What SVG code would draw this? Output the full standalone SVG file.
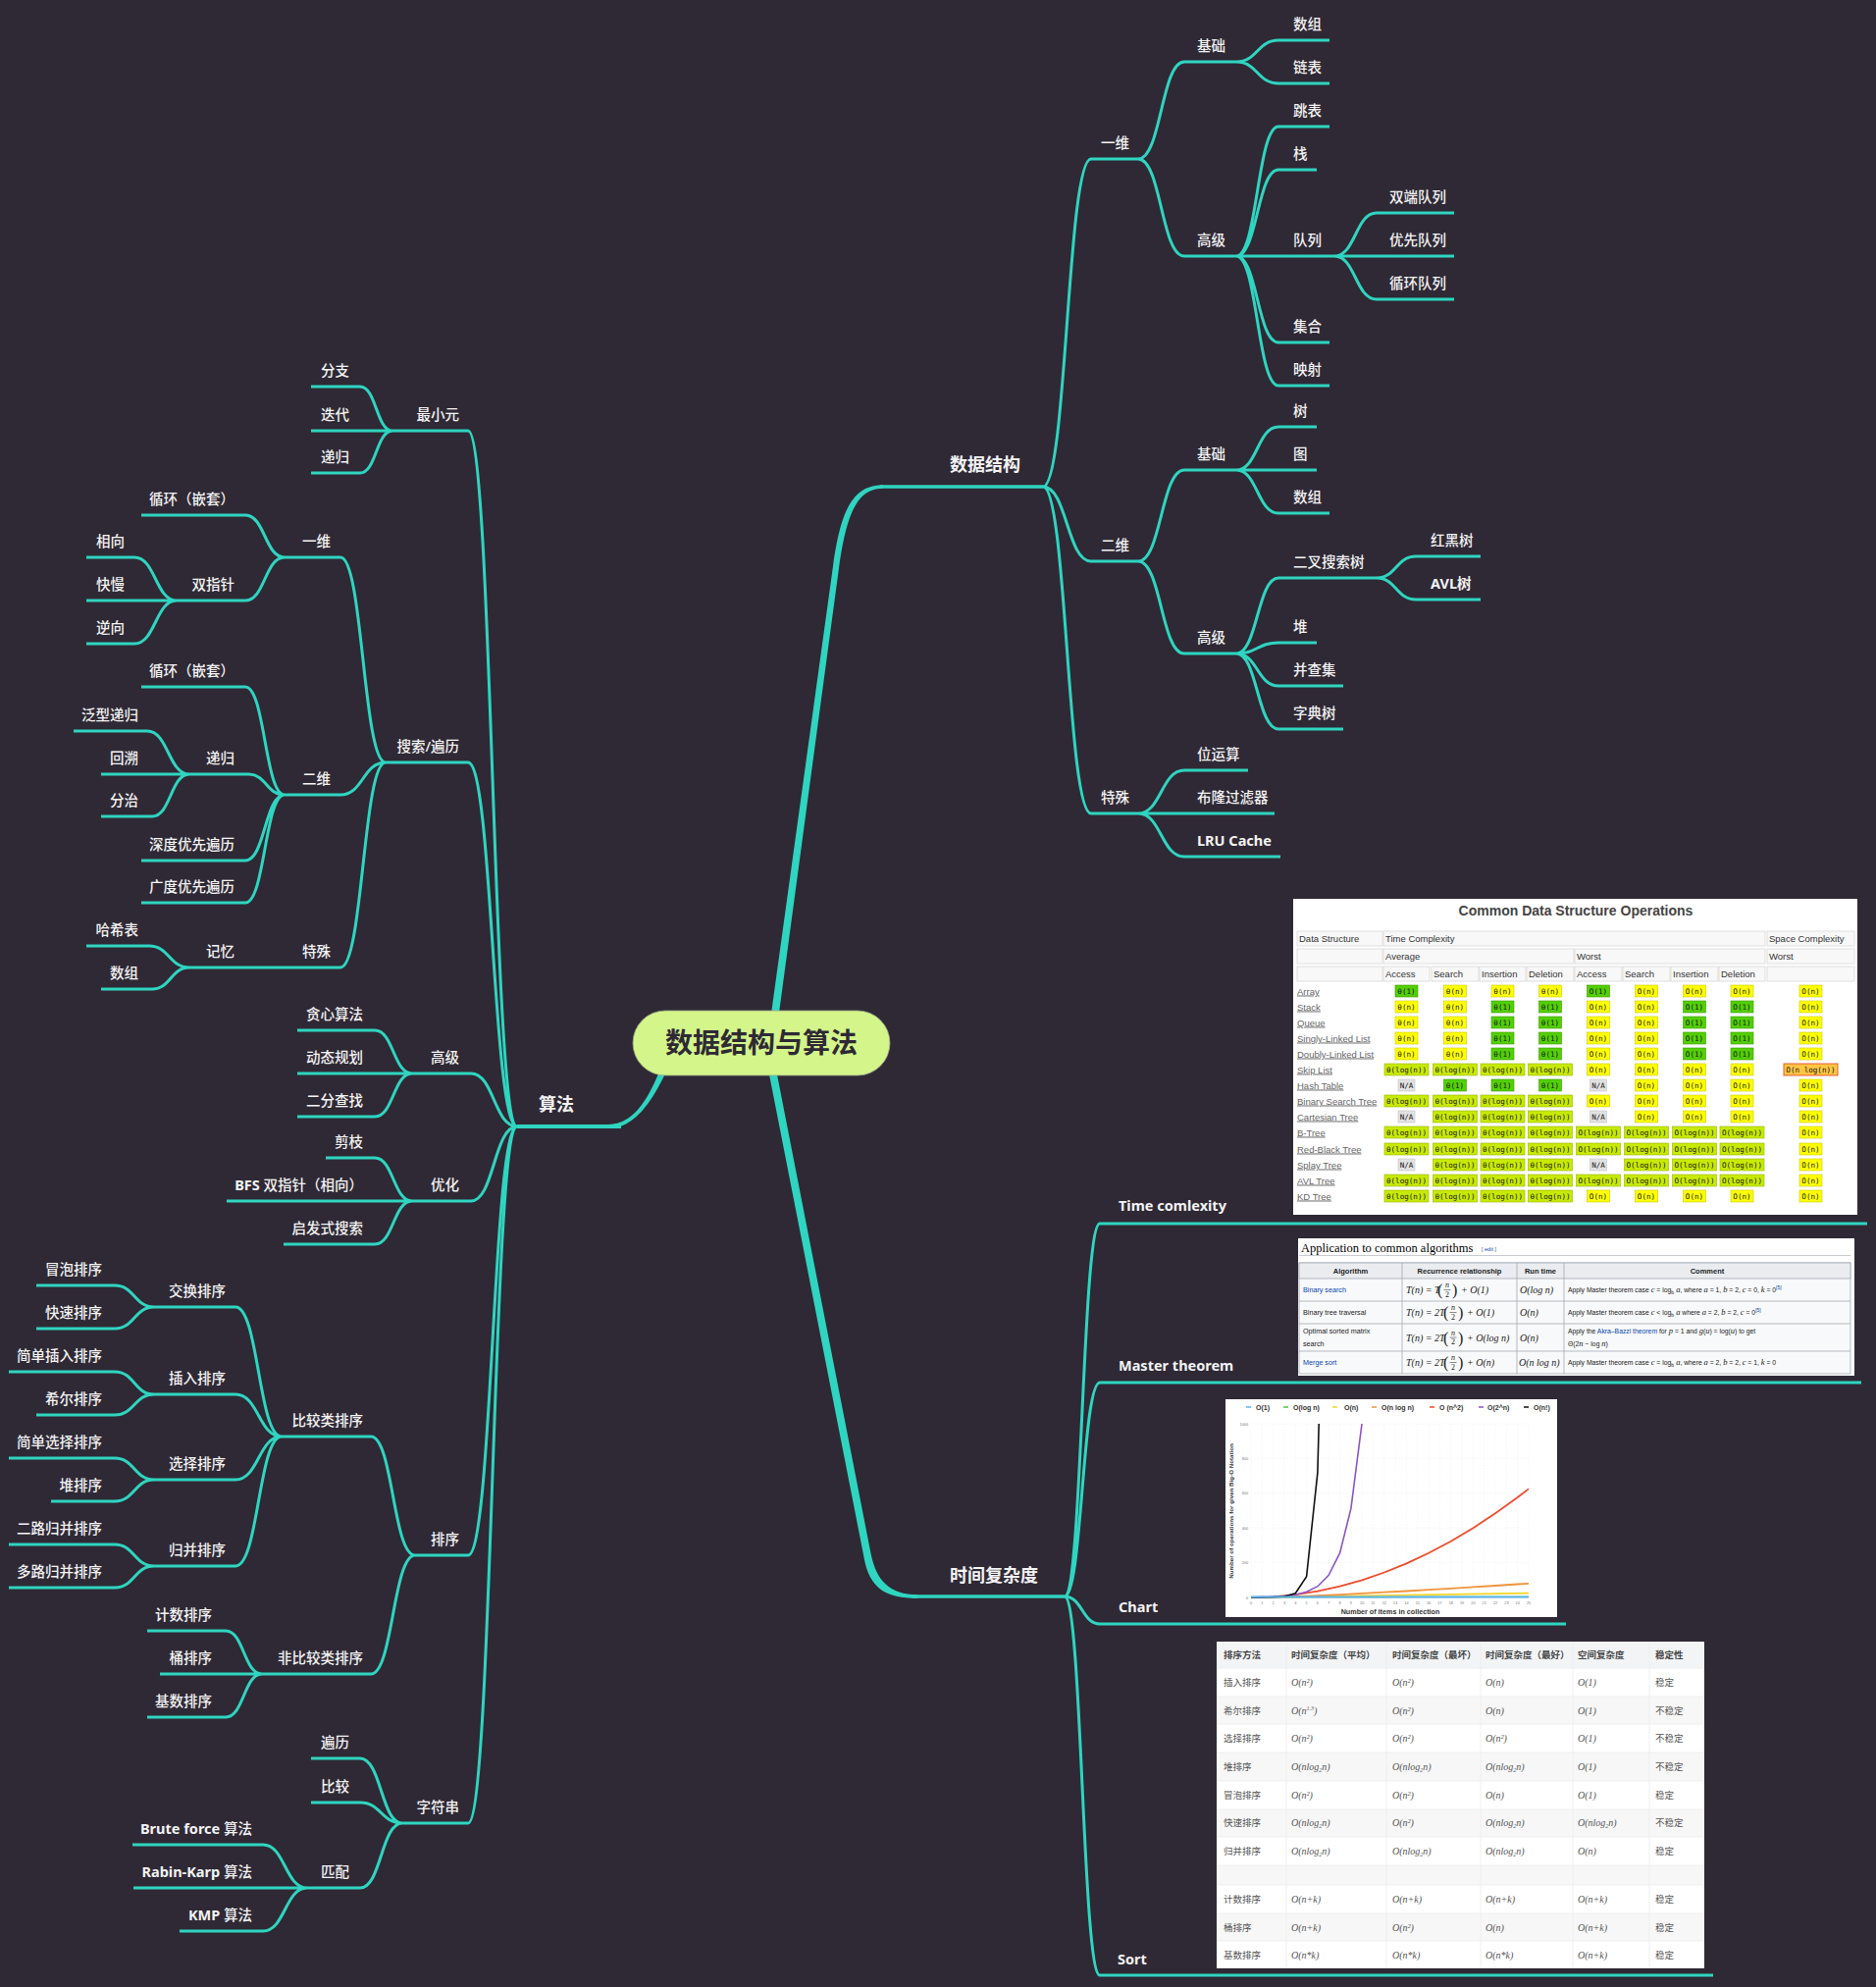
<svg xmlns="http://www.w3.org/2000/svg" width="1912" height="2025" viewBox="0 0 1912 2025">
<style>
.t{font-family:"Noto Sans","Noto Sans CJK SC",sans-serif;font-size:14.5px;font-weight:500;fill:#f3f3f3}
.e{text-anchor:end}
.b{font-weight:700}
.h{font-size:18px;font-weight:700}
.c{fill:none;stroke:#2fd5c0;stroke-width:3}
.br{fill:#2fd5c0}
.bx{font-family:"DejaVu Sans Mono",monospace;font-size:7.6px;text-anchor:middle;fill:#111}
.th{font-family:"Liberation Sans",sans-serif;font-size:9.5px;fill:#333}
.rl{font-family:"Liberation Sans",sans-serif;font-size:9.5px;fill:#666;text-decoration:underline}
.hc{fill:#f8f8f8;stroke:#d8d8d8;stroke-width:.8}
.mh{font-family:"Liberation Sans",sans-serif;font-size:7.5px;font-weight:700;fill:#202122;text-anchor:middle}
.ma{font-family:"Liberation Sans",sans-serif;font-size:7.2px;fill:#202122}
.lk{fill:#0645ad}
.mi{font-family:"Liberation Serif",serif;font-style:italic;font-size:10px;fill:#202122}
.mc{font-family:"Liberation Sans",sans-serif;font-size:6.8px;fill:#202122}
.ms{font-family:"Liberation Serif",serif;font-style:italic;font-size:8.5px}
.lg{font-family:"Liberation Sans",sans-serif;font-size:7px;font-weight:700;fill:#333}
.tk{font-family:"Liberation Sans",sans-serif;font-size:3.8px;fill:#777;text-anchor:middle}
.st{font-family:"Noto Sans CJK SC",sans-serif;font-size:9.5px;fill:#555}
.sh{font-weight:700;fill:#444}
.sm{font-family:"Liberation Serif",serif;font-style:italic;font-size:10px;fill:#555}
.gl{fill:none;stroke:#ebebeb;stroke-width:.4;stroke-dasharray:1.5 1.5}
.sl{stroke:#ececec;stroke-width:.8;fill:none}
</style>
<defs>
<g id="g1"><rect x="-11.5" y="-6" width="23" height="12" fill="#53d000" stroke="#3c9800" stroke-width=".6"/><text class="bx" y="2.7">θ(1)</text></g>
<g id="gn"><rect x="-11.5" y="-6" width="23" height="12" fill="#ffff00" stroke="#c9c900" stroke-width=".6"/><text class="bx" y="2.7">θ(n)</text></g>
<g id="o1"><rect x="-11.5" y="-6" width="23" height="12" fill="#53d000" stroke="#3c9800" stroke-width=".6"/><text class="bx" y="2.7">O(1)</text></g>
<g id="on"><rect x="-11.5" y="-6" width="23" height="12" fill="#ffff00" stroke="#c9c900" stroke-width=".6"/><text class="bx" y="2.7">O(n)</text></g>
<g id="gl"><rect x="-22.5" y="-6" width="45" height="12" fill="#c8ea00" stroke="#98b400" stroke-width=".6"/><text class="bx" y="2.7">θ(log(n))</text></g>
<g id="ol"><rect x="-22.5" y="-6" width="45" height="12" fill="#c8ea00" stroke="#98b400" stroke-width=".6"/><text class="bx" y="2.7">O(log(n))</text></g>
<g id="na"><rect x="-8.5" y="-6" width="17" height="12" fill="#e2e2e2" stroke="#c4c4c4" stroke-width=".6"/><text class="bx" y="2.7">N/A</text></g>
<g id="onl"><rect x="-27.5" y="-6" width="55" height="12" fill="#ffc543" stroke="#e03a1e" stroke-width=".8"/><text class="bx" y="2.7">O(n log(n))</text></g>
</defs>
<rect width="1912" height="2025" fill="#2f2935"/>

<g id="connectors">
<path class="br" d="M782 1062L849 577C857 518 870 494.2 900 494.2L900 497.8C874 497.8 863 522 855 579L790 1062Z"/>
<path class="br" d="M681.8 1068.6C668.8 1098.6 655 1146 620 1146L620 1150C655 1150 675.2 1101.4 688.2 1071.4Z"/>
<path class="br" d="M791 1090L887.5 1583C893 1611 907 1625.2 935 1625.2L935 1628.8C903 1628.8 886 1619 880.5 1587L783 1090Z"/>
<path class="c" d="M1063 496C1087.5 496 1087.5 162 1112 162M1063 496C1087.5 496 1087.5 572 1112 572M1063 496C1087.5 496 1087.5 829 1112 829"/>
<path class="c" d="M1160 162C1183.5 162 1183.5 63 1207 63M1160 162C1183.5 162 1183.5 261 1207 261"/>
<path class="c" d="M1260 63C1281.5 63 1281.5 41 1303 41M1260 63C1281.5 63 1281.5 85 1303 85"/>
<path class="c" d="M1260 261C1281.5 261 1281.5 129 1303 129M1260 261C1281.5 261 1281.5 173 1303 173M1260 261H1303M1260 261C1281.5 261 1281.5 349 1303 349M1260 261C1281.5 261 1281.5 393 1303 393"/>
<path class="c" d="M1360 261C1381.5 261 1381.5 217 1403 217M1360 261H1403M1360 261C1381.5 261 1381.5 305 1403 305"/>
<path class="c" d="M1160 572C1183.5 572 1183.5 479 1207 479M1160 572C1183.5 572 1183.5 666 1207 666"/>
<path class="c" d="M1260 479C1281.5 479 1281.5 435 1303 435M1260 479H1303M1260 479C1281.5 479 1281.5 523 1303 523"/>
<path class="c" d="M1260 666C1281.5 666 1281.5 589 1303 589M1260 666C1281.5 666 1281.5 655 1303 655M1260 666C1281.5 666 1281.5 699 1303 699M1260 666C1281.5 666 1281.5 743 1303 743"/>
<path class="c" d="M1403 589C1423 589 1423 567 1443 567M1403 589C1423 589 1423 611 1443 611"/>
<path class="c" d="M1160 829C1183.5 829 1183.5 785 1207 785M1160 829H1207M1160 829C1183.5 829 1183.5 873 1207 873"/>
<path class="c" d="M1085 1627C1103 1627 1103 1247 1121 1247M1085 1627C1103 1627 1103 1409 1121 1409M1085 1627C1103 1627 1103 1655 1121 1655M1085 1627C1103 1627 1103 2013 1121 2013"/>
<path class="c" d="M527 1148C502 1148 502 439 477 439M527 1148C502 1148 502 777 477 777M527 1148C503.5 1148 503.5 1094 480 1094M527 1148C503.5 1148 503.5 1224 480 1224M527 1148C502 1148 502 1585 477 1585M527 1148C502 1148 502 1858 477 1858"/>
<path class="c" d="M400 439C383.5 439 383.5 394 367 394M400 439H367M400 439C383.5 439 383.5 482 367 482"/>
<path class="c" d="M393 777C370 777 370 568 347 568M393 777C370 777 370 810 347 810M393 777C370 777 370 986 347 986"/>
<path class="c" d="M290 568C270 568 270 525 250 525M290 568C270 568 270 612 250 612"/>
<path class="c" d="M180 612C158.5 612 158.5 568 137 568M180 612H137M180 612C158.5 612 158.5 656 137 656"/>
<path class="c" d="M290 810C270 810 270 700 250 700M290 810C271.5 810 271.5 789 253 789M290 810C270 810 270 877 250 877M290 810C270 810 270 920 250 920"/>
<path class="c" d="M193 789C171.5 789 171.5 745 150 745M193 789H155M193 789C174 789 174 832 155 832"/>
<path class="c" d="M290 986H250"/>
<path class="c" d="M193 986C172.5 986 172.5 964 152 964M193 986C174 986 174 1008 155 1008"/>
<path class="c" d="M420 1094C401 1094 401 1050 382 1050M420 1094H382M420 1094C401 1094 401 1138 382 1138"/>
<path class="c" d="M420 1224C401 1224 401 1180 382 1180M420 1224H382M420 1224C401 1224 401 1268 382 1268"/>
<path class="c" d="M423 1585C400.5 1585 400.5 1464 378 1464M423 1585C400.5 1585 400.5 1706 378 1706"/>
<path class="c" d="M287 1464C263.5 1464 263.5 1332 240 1332M287 1464C263.5 1464 263.5 1421 240 1421M287 1464C263.5 1464 263.5 1508 240 1508M287 1464C263.5 1464 263.5 1596 240 1596"/>
<path class="c" d="M157 1332C137 1332 137 1310 117 1310M157 1332C137 1332 137 1354 117 1354"/>
<path class="c" d="M157 1421C137 1421 137 1398 117 1398M157 1421C137 1421 137 1442 117 1442"/>
<path class="c" d="M157 1508C137 1508 137 1486 117 1486M157 1508C137 1508 137 1530 117 1530"/>
<path class="c" d="M157 1596C137 1596 137 1574 117 1574M157 1596C137 1596 137 1618 117 1618"/>
<path class="c" d="M267 1706C248.5 1706 248.5 1662 230 1662M267 1706H230M267 1706C248.5 1706 248.5 1750 230 1750"/>
<path class="c" d="M410 1858C388.5 1858 388.5 1792 367 1792M410 1858C388.5 1858 388.5 1837 367 1837M410 1858C388.5 1858 388.5 1924 367 1924"/>
<path class="c" d="M313 1924C290.5 1924 290.5 1880 268 1880M313 1924H268M313 1924C290.5 1924 290.5 1968 268 1968"/>
</g>

<g id="root">
<rect x="645" y="1030" width="262" height="66" rx="33" fill="#d3f589" stroke="#9aa486" stroke-width=".8"/>
<text class="t" x="776" y="1073" text-anchor="middle" style="font-size:28px;font-weight:700;fill:#2f2935">数据结构与算法</text>
</g>

<g id="n-ds"><path class="c" style="stroke-width:3.6" d="M897 496H1063"/><text class="t h" x="968" y="480">数据结构</text></g>
<g id="n-ds-1d"><path class="c" d="M1112 162H1160"/><text class="t" x="1122" y="151">一维</text></g>
<g id="n-ds-1d-basic"><path class="c" d="M1207 63H1260"/><text class="t" x="1220" y="52">基础</text></g>
<g id="n-ds-1d-array"><path class="c" d="M1303 41H1355"/><text class="t" x="1318" y="30">数组</text></g>
<g id="n-ds-1d-list"><path class="c" d="M1303 85H1355"/><text class="t" x="1318" y="74">链表</text></g>
<g id="n-ds-1d-adv"><path class="c" d="M1207 261H1260"/><text class="t" x="1220" y="250">高级</text></g>
<g id="n-skiplist"><path class="c" d="M1303 129H1355"/><text class="t" x="1318" y="118">跳表</text></g>
<g id="n-stack"><path class="c" d="M1303 173H1342"/><text class="t" x="1318" y="162">栈</text></g>
<g id="n-queue"><path class="c" d="M1303 261H1360"/><text class="t" x="1318" y="250">队列</text></g>
<g id="n-deque"><path class="c" d="M1403 217H1482"/><text class="t" x="1416" y="206">双端队列</text></g>
<g id="n-pq"><path class="c" d="M1403 261H1482"/><text class="t" x="1416" y="250">优先队列</text></g>
<g id="n-cq"><path class="c" d="M1403 305H1482"/><text class="t" x="1416" y="294">循环队列</text></g>
<g id="n-set"><path class="c" d="M1303 349H1355"/><text class="t" x="1318" y="338">集合</text></g>
<g id="n-map"><path class="c" d="M1303 393H1355"/><text class="t" x="1318" y="382">映射</text></g>
<g id="n-ds-2d"><path class="c" d="M1112 572H1160"/><text class="t" x="1122" y="561">二维</text></g>
<g id="n-ds-2d-basic"><path class="c" d="M1207 479H1260"/><text class="t" x="1220" y="468">基础</text></g>
<g id="n-tree"><path class="c" d="M1303 435H1342"/><text class="t" x="1318" y="424">树</text></g>
<g id="n-graph"><path class="c" d="M1303 479H1342"/><text class="t" x="1318" y="468">图</text></g>
<g id="n-ds-2d-array"><path class="c" d="M1303 523H1355"/><text class="t" x="1318" y="512">数组</text></g>
<g id="n-ds-2d-adv"><path class="c" d="M1207 666H1260"/><text class="t" x="1220" y="655">高级</text></g>
<g id="n-bst"><path class="c" d="M1303 589H1403"/><text class="t" x="1318" y="578">二叉搜索树</text></g>
<g id="n-rbt"><path class="c" d="M1443 567H1509"/><text class="t" x="1458" y="556">红黑树</text></g>
<g id="n-avl"><path class="c" d="M1443 611H1509"/><text class="t b" x="1458" y="600">AVL树</text></g>
<g id="n-heap"><path class="c" d="M1303 655H1342"/><text class="t" x="1318" y="644">堆</text></g>
<g id="n-uf"><path class="c" d="M1303 699H1369"/><text class="t" x="1318" y="688">并查集</text></g>
<g id="n-trie"><path class="c" d="M1303 743H1369"/><text class="t" x="1318" y="732">字典树</text></g>
<g id="n-ds-special"><path class="c" d="M1112 829H1160"/><text class="t" x="1122" y="818">特殊</text></g>
<g id="n-bit"><path class="c" d="M1207 785H1272"/><text class="t" x="1220" y="774">位运算</text></g>
<g id="n-bloom"><path class="c" d="M1207 829H1299"/><text class="t" x="1220" y="818">布隆过滤器</text></g>
<g id="n-lru"><path class="c" d="M1207 873H1305"/><text class="t b" x="1220" y="862">LRU Cache</text></g>

<g id="n-algo"><path class="c" style="stroke-width:4" d="M527 1148H633"/><text class="t h" x="549" y="1132">算法</text></g>
<g id="n-min"><path class="c" d="M400 439H477"/><text class="t e" x="468" y="428">最小元</text></g>
<g id="n-branch"><path class="c" d="M317 394H367"/><text class="t e" x="356" y="383">分支</text></g>
<g id="n-iter"><path class="c" d="M317 439H367"/><text class="t e" x="356" y="428">迭代</text></g>
<g id="n-rec"><path class="c" d="M317 482H367"/><text class="t e" x="356" y="471">递归</text></g>
<g id="n-search"><path class="c" d="M393 777H477"/><text class="t e" x="468" y="766">搜索/遍历</text></g>
<g id="n-s-1d"><path class="c" d="M290 568H347"/><text class="t e" x="337" y="557">一维</text></g>
<g id="n-s-1d-loop"><path class="c" d="M144 525H250"/><text class="t e" x="239" y="514">循环（嵌套）</text></g>
<g id="n-twoptr"><path class="c" d="M180 612H250"/><text class="t e" x="239" y="601">双指针</text></g>
<g id="n-toward"><path class="c" d="M88 568H137"/><text class="t e" x="127" y="557">相向</text></g>
<g id="n-fastslow"><path class="c" d="M88 612H137"/><text class="t e" x="127" y="601">快慢</text></g>
<g id="n-reverse"><path class="c" d="M88 656H137"/><text class="t e" x="127" y="645">逆向</text></g>
<g id="n-s-2d"><path class="c" d="M290 810H347"/><text class="t e" x="337" y="799">二维</text></g>
<g id="n-s-2d-loop"><path class="c" d="M144 700H250"/><text class="t e" x="239" y="689">循环（嵌套）</text></g>
<g id="n-s-2d-rec"><path class="c" d="M193 789H253"/><text class="t e" x="239" y="778">递归</text></g>
<g id="n-genrec"><path class="c" d="M75 745H150"/><text class="t e" x="141" y="734">泛型递归</text></g>
<g id="n-backtrack"><path class="c" d="M103 789H155"/><text class="t e" x="141" y="778">回溯</text></g>
<g id="n-dc"><path class="c" d="M103 832H155"/><text class="t e" x="141" y="821">分治</text></g>
<g id="n-dfs"><path class="c" d="M144 877H250"/><text class="t e" x="239" y="866">深度优先遍历</text></g>
<g id="n-bfs"><path class="c" d="M144 920H250"/><text class="t e" x="239" y="909">广度优先遍历</text></g>
<g id="n-s-special"><path class="c" d="M290 986H347"/><text class="t e" x="337" y="975">特殊</text></g>
<g id="n-memo"><path class="c" d="M193 986H250"/><text class="t e" x="239" y="975">记忆</text></g>
<g id="n-hash"><path class="c" d="M88 964H152"/><text class="t e" x="141" y="953">哈希表</text></g>
<g id="n-memo-array"><path class="c" d="M103 1008H155"/><text class="t e" x="141" y="997">数组</text></g>
<g id="n-a-adv"><path class="c" d="M420 1094H480"/><text class="t e" x="468" y="1083">高级</text></g>
<g id="n-greedy"><path class="c" d="M303 1050H382"/><text class="t e" x="370" y="1039">贪心算法</text></g>
<g id="n-dp"><path class="c" d="M303 1094H382"/><text class="t e" x="370" y="1083">动态规划</text></g>
<g id="n-binsearch"><path class="c" d="M303 1138H382"/><text class="t e" x="370" y="1127">二分查找</text></g>
<g id="n-opt"><path class="c" d="M420 1224H480"/><text class="t e" x="468" y="1213">优化</text></g>
<g id="n-prune"><path class="c" d="M332 1180H382"/><text class="t e" x="370" y="1169">剪枝</text></g>
<g id="n-bfs2"><path class="c" d="M231 1224H382"/><text class="t e" x="370" y="1213"><tspan class="b">BFS</tspan> 双指针（相向）</text></g>
<g id="n-heuristic"><path class="c" d="M289 1268H382"/><text class="t e" x="370" y="1257">启发式搜索</text></g>
<g id="n-sort"><path class="c" d="M423 1585H477"/><text class="t e" x="468" y="1574">排序</text></g>
<g id="n-cmp"><path class="c" d="M287 1464H378"/><text class="t e" x="370" y="1453">比较类排序</text></g>
<g id="n-swap"><path class="c" d="M157 1332H240"/><text class="t e" x="230" y="1321">交换排序</text></g>
<g id="n-bubble"><path class="c" d="M37 1310H117"/><text class="t e" x="104" y="1299">冒泡排序</text></g>
<g id="n-quick"><path class="c" d="M37 1354H117"/><text class="t e" x="104" y="1343">快速排序</text></g>
<g id="n-ins"><path class="c" d="M157 1421H240"/><text class="t e" x="230" y="1410">插入排序</text></g>
<g id="n-sins"><path class="c" d="M9 1398H117"/><text class="t e" x="104" y="1387">简单插入排序</text></g>
<g id="n-shell"><path class="c" d="M37 1442H117"/><text class="t e" x="104" y="1431">希尔排序</text></g>
<g id="n-sel"><path class="c" d="M157 1508H240"/><text class="t e" x="230" y="1497">选择排序</text></g>
<g id="n-ssel"><path class="c" d="M9 1486H117"/><text class="t e" x="104" y="1475">简单选择排序</text></g>
<g id="n-heapsort"><path class="c" d="M52 1530H117"/><text class="t e" x="104" y="1519">堆排序</text></g>
<g id="n-merge"><path class="c" d="M157 1596H240"/><text class="t e" x="230" y="1585">归并排序</text></g>
<g id="n-merge2"><path class="c" d="M9 1574H117"/><text class="t e" x="104" y="1563">二路归并排序</text></g>
<g id="n-mergek"><path class="c" d="M9 1618H117"/><text class="t e" x="104" y="1607">多路归并排序</text></g>
<g id="n-noncmp"><path class="c" d="M267 1706H378"/><text class="t e" x="370" y="1695">非比较类排序</text></g>
<g id="n-count"><path class="c" d="M150 1662H230"/><text class="t e" x="216" y="1651">计数排序</text></g>
<g id="n-bucket"><path class="c" d="M163 1706H230"/><text class="t e" x="216" y="1695">桶排序</text></g>
<g id="n-radix"><path class="c" d="M150 1750H230"/><text class="t e" x="216" y="1739">基数排序</text></g>
<g id="n-string"><path class="c" d="M410 1858H477"/><text class="t e" x="468" y="1847">字符串</text></g>
<g id="n-traverse"><path class="c" d="M317 1792H367"/><text class="t e" x="356" y="1781">遍历</text></g>
<g id="n-compare"><path class="c" d="M317 1837H367"/><text class="t e" x="356" y="1826">比较</text></g>
<g id="n-match"><path class="c" d="M313 1924H367"/><text class="t e" x="356" y="1913">匹配</text></g>
<g id="n-brute"><path class="c" d="M135 1880H268"/><text class="t e" x="257" y="1869"><tspan class="b">Brute force</tspan> 算法</text></g>
<g id="n-rk"><path class="c" d="M136 1924H268"/><text class="t e" x="257" y="1913"><tspan class="b">Rabin-Karp</tspan> 算法</text></g>
<g id="n-kmp"><path class="c" d="M183 1968H268"/><text class="t e" x="257" y="1957"><tspan class="b">KMP</tspan> 算法</text></g>

<g id="n-time"><path class="c" style="stroke-width:3.6" d="M930 1627H1085"/><text class="t h" x="968" y="1612">时间复杂度</text></g>

<g id="n-tc">
<path class="c" d="M1121 1247H1903"/><text class="t b" x="1140" y="1234">Time comlexity</text>
<rect x="1318" y="916" width="575" height="322" fill="#ffffff"/>
<text x="1606" y="933" text-anchor="middle" style="font-family:'Liberation Sans',sans-serif;font-size:14px;font-weight:700;fill:#444">Common Data Structure Operations</text>
<rect class="hc" x="1322" y="949" width="87" height="15"/><rect class="hc" x="1410" y="949" width="389" height="15"/><rect class="hc" x="1801" y="949" width="89" height="15"/>
<rect class="hc" x="1322" y="967" width="87" height="15"/><rect class="hc" x="1410" y="967" width="194" height="15"/><rect class="hc" x="1605" y="967" width="194" height="15"/><rect class="hc" x="1801" y="967" width="89" height="15"/>
<rect class="hc" x="1322" y="985" width="87" height="15"/><rect class="hc" x="1410" y="985" width="47" height="15"/><rect class="hc" x="1459" y="985" width="48" height="15"/><rect class="hc" x="1508" y="985" width="47" height="15"/><rect class="hc" x="1556" y="985" width="48" height="15"/><rect class="hc" x="1605" y="985" width="48" height="15"/><rect class="hc" x="1654" y="985" width="48" height="15"/><rect class="hc" x="1703" y="985" width="48" height="15"/><rect class="hc" x="1752" y="985" width="47" height="15"/><rect class="hc" x="1801" y="985" width="89" height="15"/>
<text class="th" x="1324" y="960">Data Structure</text><text class="th" x="1412" y="960">Time Complexity</text><text class="th" x="1803" y="960">Space Complexity</text>
<text class="th" x="1412" y="978">Average</text><text class="th" x="1607" y="978">Worst</text><text class="th" x="1803" y="978">Worst</text>
<text class="th" x="1412" y="996">Access</text><text class="th" x="1461" y="996">Search</text><text class="th" x="1510" y="996">Insertion</text><text class="th" x="1558" y="996">Deletion</text><text class="th" x="1607" y="996">Access</text><text class="th" x="1656" y="996">Search</text><text class="th" x="1705" y="996">Insertion</text><text class="th" x="1754" y="996">Deletion</text>
<text class="rl" x="1322" y="1013.5">Array</text>
<text class="rl" x="1322" y="1029.5">Stack</text>
<text class="rl" x="1322" y="1045.5">Queue</text>
<text class="rl" x="1322" y="1061.5">Singly-Linked List</text>
<text class="rl" x="1322" y="1077.5">Doubly-Linked List</text>
<text class="rl" x="1322" y="1093.5">Skip List</text>
<text class="rl" x="1322" y="1109.5">Hash Table</text>
<text class="rl" x="1322" y="1125.5">Binary Search Tree</text>
<text class="rl" x="1322" y="1141.5">Cartesian Tree</text>
<text class="rl" x="1322" y="1157.5">B-Tree</text>
<text class="rl" x="1322" y="1174.5">Red-Black Tree</text>
<text class="rl" x="1322" y="1190.5">Splay Tree</text>
<text class="rl" x="1322" y="1206.5">AVL Tree</text>
<text class="rl" x="1322" y="1222.5">KD Tree</text>
<use href="#g1" x="1433.5" y="1010"/><use href="#gn" x="1483" y="1010"/><use href="#gn" x="1531.5" y="1010"/><use href="#gn" x="1580" y="1010"/><use href="#o1" x="1629" y="1010"/><use href="#on" x="1678" y="1010"/><use href="#on" x="1727" y="1010"/><use href="#on" x="1775.5" y="1010"/><use href="#on" x="1845.5" y="1010"/>
<use href="#gn" x="1433.5" y="1026"/><use href="#gn" x="1483" y="1026"/><use href="#g1" x="1531.5" y="1026"/><use href="#g1" x="1580" y="1026"/><use href="#on" x="1629" y="1026"/><use href="#on" x="1678" y="1026"/><use href="#o1" x="1727" y="1026"/><use href="#o1" x="1775.5" y="1026"/><use href="#on" x="1845.5" y="1026"/>
<use href="#gn" x="1433.5" y="1042"/><use href="#gn" x="1483" y="1042"/><use href="#g1" x="1531.5" y="1042"/><use href="#g1" x="1580" y="1042"/><use href="#on" x="1629" y="1042"/><use href="#on" x="1678" y="1042"/><use href="#o1" x="1727" y="1042"/><use href="#o1" x="1775.5" y="1042"/><use href="#on" x="1845.5" y="1042"/>
<use href="#gn" x="1433.5" y="1058"/><use href="#gn" x="1483" y="1058"/><use href="#g1" x="1531.5" y="1058"/><use href="#g1" x="1580" y="1058"/><use href="#on" x="1629" y="1058"/><use href="#on" x="1678" y="1058"/><use href="#o1" x="1727" y="1058"/><use href="#o1" x="1775.5" y="1058"/><use href="#on" x="1845.5" y="1058"/>
<use href="#gn" x="1433.5" y="1074"/><use href="#gn" x="1483" y="1074"/><use href="#g1" x="1531.5" y="1074"/><use href="#g1" x="1580" y="1074"/><use href="#on" x="1629" y="1074"/><use href="#on" x="1678" y="1074"/><use href="#o1" x="1727" y="1074"/><use href="#o1" x="1775.5" y="1074"/><use href="#on" x="1845.5" y="1074"/>
<use href="#gl" x="1433.5" y="1090"/><use href="#gl" x="1483" y="1090"/><use href="#gl" x="1531.5" y="1090"/><use href="#gl" x="1580" y="1090"/><use href="#on" x="1629" y="1090"/><use href="#on" x="1678" y="1090"/><use href="#on" x="1727" y="1090"/><use href="#on" x="1775.5" y="1090"/><use href="#onl" x="1845.5" y="1090"/>
<use href="#na" x="1433.5" y="1106"/><use href="#g1" x="1483" y="1106"/><use href="#g1" x="1531.5" y="1106"/><use href="#g1" x="1580" y="1106"/><use href="#na" x="1629" y="1106"/><use href="#on" x="1678" y="1106"/><use href="#on" x="1727" y="1106"/><use href="#on" x="1775.5" y="1106"/><use href="#on" x="1845.5" y="1106"/>
<use href="#gl" x="1433.5" y="1122"/><use href="#gl" x="1483" y="1122"/><use href="#gl" x="1531.5" y="1122"/><use href="#gl" x="1580" y="1122"/><use href="#on" x="1629" y="1122"/><use href="#on" x="1678" y="1122"/><use href="#on" x="1727" y="1122"/><use href="#on" x="1775.5" y="1122"/><use href="#on" x="1845.5" y="1122"/>
<use href="#na" x="1433.5" y="1138"/><use href="#gl" x="1483" y="1138"/><use href="#gl" x="1531.5" y="1138"/><use href="#gl" x="1580" y="1138"/><use href="#na" x="1629" y="1138"/><use href="#on" x="1678" y="1138"/><use href="#on" x="1727" y="1138"/><use href="#on" x="1775.5" y="1138"/><use href="#on" x="1845.5" y="1138"/>
<use href="#gl" x="1433.5" y="1154"/><use href="#gl" x="1483" y="1154"/><use href="#gl" x="1531.5" y="1154"/><use href="#gl" x="1580" y="1154"/><use href="#ol" x="1629" y="1154"/><use href="#ol" x="1678" y="1154"/><use href="#ol" x="1727" y="1154"/><use href="#ol" x="1775.5" y="1154"/><use href="#on" x="1845.5" y="1154"/>
<use href="#gl" x="1433.5" y="1171"/><use href="#gl" x="1483" y="1171"/><use href="#gl" x="1531.5" y="1171"/><use href="#gl" x="1580" y="1171"/><use href="#ol" x="1629" y="1171"/><use href="#ol" x="1678" y="1171"/><use href="#ol" x="1727" y="1171"/><use href="#ol" x="1775.5" y="1171"/><use href="#on" x="1845.5" y="1171"/>
<use href="#na" x="1433.5" y="1187"/><use href="#gl" x="1483" y="1187"/><use href="#gl" x="1531.5" y="1187"/><use href="#gl" x="1580" y="1187"/><use href="#na" x="1629" y="1187"/><use href="#ol" x="1678" y="1187"/><use href="#ol" x="1727" y="1187"/><use href="#ol" x="1775.5" y="1187"/><use href="#on" x="1845.5" y="1187"/>
<use href="#gl" x="1433.5" y="1203"/><use href="#gl" x="1483" y="1203"/><use href="#gl" x="1531.5" y="1203"/><use href="#gl" x="1580" y="1203"/><use href="#ol" x="1629" y="1203"/><use href="#ol" x="1678" y="1203"/><use href="#ol" x="1727" y="1203"/><use href="#ol" x="1775.5" y="1203"/><use href="#on" x="1845.5" y="1203"/>
<use href="#gl" x="1433.5" y="1219"/><use href="#gl" x="1483" y="1219"/><use href="#gl" x="1531.5" y="1219"/><use href="#gl" x="1580" y="1219"/><use href="#on" x="1629" y="1219"/><use href="#on" x="1678" y="1219"/><use href="#on" x="1727" y="1219"/><use href="#on" x="1775.5" y="1219"/><use href="#on" x="1845.5" y="1219"/>
</g>

<g id="n-master">
<path class="c" d="M1121 1409H1897"/><text class="t b" x="1140" y="1397">Master theorem</text>
<rect x="1323" y="1262" width="567" height="140" fill="#ffffff"/>
<text x="1326" y="1276" style="font-family:'Liberation Serif',serif;font-size:12.5px;fill:#000">Application to common algorithms</text>
<text x="1510" y="1275" style="font-family:'Liberation Sans',sans-serif;font-size:5.5px;fill:#54595d">[ <tspan fill="#0645ad">edit</tspan> ]</text>
<path d="M1324 1279.5H1886" stroke="#a2a9b1" stroke-width=".6"/>
<rect x="1324" y="1287" width="562" height="113" fill="#f8f9fa" stroke="#a2a9b1" stroke-width=".8"/>
<rect x="1324" y="1287" width="562" height="16" fill="#eaecf0" stroke="#a2a9b1" stroke-width=".8"/>
<path d="M1324 1326H1886M1324 1349H1886M1324 1377H1886M1429 1287V1400M1546 1287V1400M1594 1287V1400" stroke="#a2a9b1" stroke-width=".8" fill="none"/>
<text class="mh" x="1376.5" y="1298">Algorithm</text><text class="mh" x="1487.5" y="1298">Recurrence relationship</text><text class="mh" x="1570" y="1298">Run time</text><text class="mh" x="1740" y="1298">Comment</text>
<text class="ma lk" x="1328" y="1317">Binary search</text>
<text class="ma" x="1328" y="1340">Binary tree traversal</text>
<text class="ma" x="1328" y="1359">Optimal sorted matrix</text><text class="ma" x="1328" y="1372">search</text>
<text class="ma lk" x="1328" y="1391">Merge sort</text>
<text class="mi" x="1433" y="1318">T(n) = T</text><text class="mi" x="1465" y="1320" style="font-style:normal;font-size:16px">(</text><text class="mi" x="1475" y="1312" text-anchor="middle" style="font-size:8px">n</text><path d="M1471.5 1314.5H1478.5" stroke="#202122" stroke-width=".5"/><text class="mi" x="1475" y="1321.5" text-anchor="middle" style="font-size:8px;font-style:normal">2</text><text class="mi" x="1480" y="1320" style="font-style:normal;font-size:16px">)</text><text class="mi" x="1489" y="1318">+ O(1)</text>
<text class="mi" x="1433" y="1341">T(n) = 2T</text><text class="mi" x="1471" y="1343" style="font-style:normal;font-size:16px">(</text><text class="mi" x="1481" y="1335" text-anchor="middle" style="font-size:8px">n</text><path d="M1477.5 1337.5H1484.5" stroke="#202122" stroke-width=".5"/><text class="mi" x="1481" y="1344.5" text-anchor="middle" style="font-size:8px;font-style:normal">2</text><text class="mi" x="1486" y="1343" style="font-style:normal;font-size:16px">)</text><text class="mi" x="1495" y="1341">+ O(1)</text>
<text class="mi" x="1433" y="1366.5">T(n) = 2T</text><text class="mi" x="1471" y="1368.5" style="font-style:normal;font-size:16px">(</text><text class="mi" x="1481" y="1360.5" text-anchor="middle" style="font-size:8px">n</text><path d="M1477.5 1363H1484.5" stroke="#202122" stroke-width=".5"/><text class="mi" x="1481" y="1370" text-anchor="middle" style="font-size:8px;font-style:normal">2</text><text class="mi" x="1486" y="1368.5" style="font-style:normal;font-size:16px">)</text><text class="mi" x="1495" y="1366.5">+ O(log n)</text>
<text class="mi" x="1433" y="1392">T(n) = 2T</text><text class="mi" x="1471" y="1394" style="font-style:normal;font-size:16px">(</text><text class="mi" x="1481" y="1386" text-anchor="middle" style="font-size:8px">n</text><path d="M1477.5 1388.5H1484.5" stroke="#202122" stroke-width=".5"/><text class="mi" x="1481" y="1395.5" text-anchor="middle" style="font-size:8px;font-style:normal">2</text><text class="mi" x="1486" y="1394" style="font-style:normal;font-size:16px">)</text><text class="mi" x="1495" y="1392">+ O(n)</text>
<text class="mi" x="1549" y="1318">O(log n)</text>
<text class="mi" x="1549" y="1341">O(n)</text>
<text class="mi" x="1549" y="1366.5">O(n)</text>
<text class="mi" x="1548" y="1392">O(n log n)</text>
<text class="mc" x="1598" y="1317">Apply Master theorem case <tspan class="ms">c</tspan> = log<tspan font-size="5" dy="1.5">b</tspan><tspan class="ms" dy="-1.5"> a</tspan>, where <tspan class="ms">a</tspan> = 1, <tspan class="ms">b</tspan> = 2, <tspan class="ms">c</tspan> = 0, <tspan class="ms">k</tspan> = 0<tspan class="lk" font-size="5" dy="-3">[5]</tspan></text>
<text class="mc" x="1598" y="1340">Apply Master theorem case <tspan class="ms">c</tspan> &lt; log<tspan font-size="5" dy="1.5">b</tspan><tspan class="ms" dy="-1.5"> a</tspan> where <tspan class="ms">a</tspan> = 2, <tspan class="ms">b</tspan> = 2, <tspan class="ms">c</tspan> = 0<tspan class="lk" font-size="5" dy="-3">[5]</tspan></text>
<text class="mc" x="1598" y="1359">Apply the <tspan class="lk">Akra–Bazzi theorem</tspan> for <tspan class="ms">p</tspan> = 1 and <tspan class="ms">g</tspan>(<tspan class="ms">u</tspan>) = log(<tspan class="ms">u</tspan>) to get</text>
<text class="mc" x="1598" y="1372">Θ(2<tspan class="ms">n</tspan> − log <tspan class="ms">n</tspan>)</text>
<text class="mc" x="1598" y="1391">Apply Master theorem case <tspan class="ms">c</tspan> = log<tspan font-size="5" dy="1.5">b</tspan><tspan class="ms" dy="-1.5"> a</tspan>, where <tspan class="ms">a</tspan> = 2, <tspan class="ms">b</tspan> = 2, <tspan class="ms">c</tspan> = 1, <tspan class="ms">k</tspan> = 0</text>
</g>

<g id="n-chart">
<path class="c" d="M1121 1655H1596"/><text class="t b" x="1140" y="1643">Chart</text>
<rect x="1249" y="1426" width="338" height="222" fill="#ffffff"/>
<path class="gl" d="M1275 1451V1628M1286.3 1451V1628M1297.6 1451V1628M1309 1451V1628M1320.3 1451V1628M1331.6 1451V1628M1342.9 1451V1628M1354.2 1451V1628M1365.6 1451V1628M1376.9 1451V1628M1388.2 1451V1628M1399.5 1451V1628M1410.8 1451V1628M1422.2 1451V1628M1433.5 1451V1628M1444.8 1451V1628M1456.1 1451V1628M1467.4 1451V1628M1478.8 1451V1628M1490.1 1451V1628M1501.4 1451V1628M1512.7 1451V1628M1524 1451V1628M1535.4 1451V1628M1546.7 1451V1628M1558 1451V1628M1275 1451H1558M1275 1486.4H1558M1275 1521.8H1558M1275 1557.2H1558M1275 1592.6H1558"/>
<path d="M1275 1628H1558" stroke="#cfcfcf" stroke-width=".6"/>
<text class="tk" x="1272" y="1452.5" text-anchor="end" style="text-anchor:end">1000</text><text class="tk" x="1272" y="1488" style="text-anchor:end">800</text><text class="tk" x="1272" y="1523" style="text-anchor:end">600</text><text class="tk" x="1272" y="1558.5" style="text-anchor:end">400</text><text class="tk" x="1272" y="1594" style="text-anchor:end">200</text><text class="tk" x="1272" y="1629.5" style="text-anchor:end">0</text>
<text class="tk" x="1275" y="1634.5">0</text><text class="tk" x="1286.3" y="1634.5">1</text><text class="tk" x="1297.6" y="1634.5">2</text><text class="tk" x="1309" y="1634.5">3</text><text class="tk" x="1320.3" y="1634.5">4</text><text class="tk" x="1331.6" y="1634.5">5</text><text class="tk" x="1342.9" y="1634.5">6</text><text class="tk" x="1354.2" y="1634.5">7</text><text class="tk" x="1365.6" y="1634.5">8</text><text class="tk" x="1376.9" y="1634.5">9</text><text class="tk" x="1388.2" y="1634.5">10</text><text class="tk" x="1399.5" y="1634.5">11</text><text class="tk" x="1410.8" y="1634.5">12</text><text class="tk" x="1422.2" y="1634.5">13</text><text class="tk" x="1433.5" y="1634.5">14</text><text class="tk" x="1444.8" y="1634.5">15</text><text class="tk" x="1456.1" y="1634.5">16</text><text class="tk" x="1467.4" y="1634.5">17</text><text class="tk" x="1478.8" y="1634.5">18</text><text class="tk" x="1490.1" y="1634.5">19</text><text class="tk" x="1501.4" y="1634.5">20</text><text class="tk" x="1512.7" y="1634.5">21</text><text class="tk" x="1524" y="1634.5">22</text><text class="tk" x="1535.4" y="1634.5">23</text><text class="tk" x="1546.7" y="1634.5">24</text><text class="tk" x="1558" y="1634.5">25</text>
<polyline fill="none" stroke="#4fc23a" stroke-width="1.3" points="1286.3,1628 1297.6,1627.9 1309,1627.8 1331.6,1627.7 1365.6,1627.6 1410.8,1627.5 1558,1627.4"/>
<polyline fill="none" stroke="#f5d522" stroke-width="1.6" points="1275,1628 1558,1623.6"/>
<polyline fill="none" stroke="#f0943a" stroke-width="1.8" points="1286.3,1628 1297.6,1627.75 1309,1627.4 1320.3,1627 1331.6,1626.6 1342.9,1626.1 1365.6,1625.1 1388.2,1623.9 1410.8,1622.7 1433.5,1621.5 1456.1,1620.1 1478.8,1618.8 1501.4,1617.4 1524,1616 1546.7,1614.5 1558,1613.8"/>
<polyline fill="none" stroke="#f04a2a" stroke-width="1.8" points="1275,1628 1297.6,1627.3 1320.3,1625.2 1342.9,1621.6 1365.6,1616.7 1388.2,1610.3 1410.8,1602.5 1433.5,1593.3 1456.1,1582.7 1478.8,1570.7 1501.4,1557.2 1524,1542.3 1546.7,1526 1558,1517.4"/>
<polyline fill="none" stroke="#8b55c9" stroke-width="1.6" points="1275,1627.8 1286.3,1627.6 1297.6,1627.3 1309,1626.6 1320.3,1625.2 1331.6,1622.3 1342.9,1616.7 1354.2,1605.3 1365.6,1582.7 1376.9,1537.4 1388,1451"/>
<polyline fill="none" stroke="#111111" stroke-width="1.6" points="1275,1628 1286.3,1628 1297.6,1627.6 1309,1627 1320.3,1623.8 1331.6,1606.8 1342.9,1500.6 1344.2,1451"/>
<path d="M1275 1627.5H1558" stroke="#5ab4f0" stroke-width="2.2"/>
<path d="M1270 1434H1275" stroke="#5ab4f0" stroke-width="1.5"/><text class="lg" x="1280" y="1436.5">O(1)</text>
<path d="M1308 1434H1313" stroke="#4fc23a" stroke-width="1.5"/><text class="lg" x="1318" y="1436.5">O(log n)</text>
<path d="M1358 1434H1363" stroke="#f5d522" stroke-width="1.5"/><text class="lg" x="1370" y="1436.5">O(n)</text>
<path d="M1398 1434H1403" stroke="#f0943a" stroke-width="1.5"/><text class="lg" x="1408" y="1436.5">O(n log n)</text>
<path d="M1457 1434H1462" stroke="#f04a2a" stroke-width="1.5"/><text class="lg" x="1467" y="1436.5">O (n^2)</text>
<path d="M1507 1434H1512" stroke="#8b55c9" stroke-width="1.5"/><text class="lg" x="1516" y="1436.5">O(2^n)</text>
<path d="M1553 1434H1558" stroke="#111111" stroke-width="1.5"/><text class="lg" x="1563" y="1436.5">O(n!)</text>
<text class="lg" x="1417" y="1645" text-anchor="middle" style="font-size:7.2px">Number of items in collection</text>
<text class="lg" transform="translate(1257 1540) rotate(-90)" text-anchor="middle" style="font-size:6.2px">Number of operations for given Big-O Notation</text>
</g>

<g id="n-sorttable">
<path class="c" d="M1121 2013H1746"/><text class="t b" x="1139" y="2002">Sort</text>
<rect x="1240" y="1673" width="497" height="333" fill="#ffffff"/>
<rect x="1240" y="1673" width="497" height="27" fill="#f2f4f6"/>
<rect x="1240" y="1729" width="497" height="28" fill="#f7f7f7"/>
<rect x="1240" y="1786" width="497" height="29" fill="#f7f7f7"/>
<rect x="1240" y="1844" width="497" height="28" fill="#f7f7f7"/>
<rect x="1240" y="1901" width="497" height="20" fill="#f7f7f7"/>
<rect x="1240" y="1950" width="497" height="28" fill="#f7f7f7"/>
<path class="sl" d="M1240 1700H1737M1240 1729H1737M1240 1757H1737M1240 1786H1737M1240 1815H1737M1240 1844H1737M1240 1872H1737M1240 1901H1737M1240 1921H1737M1240 1950H1737M1240 1978H1737M1311 1673V2006M1413 1673V2006M1509 1673V2006M1603 1673V2006M1681 1673V2006"/>
<text class="st sh" x="1247" y="1690">排序方法</text><text class="st sh" x="1316" y="1690">时间复杂度（平均）</text><text class="st sh" x="1419" y="1690">时间复杂度（最坏）</text><text class="st sh" x="1514" y="1690">时间复杂度（最好）</text><text class="st sh" x="1608" y="1690">空间复杂度</text><text class="st sh" x="1687" y="1690">稳定性</text>
<text class="st" x="1247" y="1718">插入排序</text><text class="sm" x="1316" y="1718">O(n²)</text><text class="sm" x="1419" y="1718">O(n²)</text><text class="sm" x="1514" y="1718">O(n)</text><text class="sm" x="1608" y="1718">O(1)</text><text class="st" x="1687" y="1718">稳定</text>
<text class="st" x="1247" y="1746.5">希尔排序</text><text class="sm" x="1316" y="1746.5">O(n<tspan font-size="6" dy="-3.5">1.3</tspan><tspan dy="3.5">)</tspan></text><text class="sm" x="1419" y="1746.5">O(n²)</text><text class="sm" x="1514" y="1746.5">O(n)</text><text class="sm" x="1608" y="1746.5">O(1)</text><text class="st" x="1687" y="1746.5">不稳定</text>
<text class="st" x="1247" y="1775">选择排序</text><text class="sm" x="1316" y="1775">O(n²)</text><text class="sm" x="1419" y="1775">O(n²)</text><text class="sm" x="1514" y="1775">O(n²)</text><text class="sm" x="1608" y="1775">O(1)</text><text class="st" x="1687" y="1775">不稳定</text>
<text class="st" x="1247" y="1804">堆排序</text><text class="sm" x="1316" y="1804">O(nlog<tspan font-size="6" dy="2">2</tspan><tspan dy="-2">n)</tspan></text><text class="sm" x="1419" y="1804">O(nlog<tspan font-size="6" dy="2">2</tspan><tspan dy="-2">n)</tspan></text><text class="sm" x="1514" y="1804">O(nlog<tspan font-size="6" dy="2">2</tspan><tspan dy="-2">n)</tspan></text><text class="sm" x="1608" y="1804">O(1)</text><text class="st" x="1687" y="1804">不稳定</text>
<text class="st" x="1247" y="1833">冒泡排序</text><text class="sm" x="1316" y="1833">O(n²)</text><text class="sm" x="1419" y="1833">O(n²)</text><text class="sm" x="1514" y="1833">O(n)</text><text class="sm" x="1608" y="1833">O(1)</text><text class="st" x="1687" y="1833">稳定</text>
<text class="st" x="1247" y="1861">快速排序</text><text class="sm" x="1316" y="1861">O(nlog<tspan font-size="6" dy="2">2</tspan><tspan dy="-2">n)</tspan></text><text class="sm" x="1419" y="1861">O(n²)</text><text class="sm" x="1514" y="1861">O(nlog<tspan font-size="6" dy="2">2</tspan><tspan dy="-2">n)</tspan></text><text class="sm" x="1608" y="1861">O(nlog<tspan font-size="6" dy="2">2</tspan><tspan dy="-2">n)</tspan></text><text class="st" x="1687" y="1861">不稳定</text>
<text class="st" x="1247" y="1890">归并排序</text><text class="sm" x="1316" y="1890">O(nlog<tspan font-size="6" dy="2">2</tspan><tspan dy="-2">n)</tspan></text><text class="sm" x="1419" y="1890">O(nlog<tspan font-size="6" dy="2">2</tspan><tspan dy="-2">n)</tspan></text><text class="sm" x="1514" y="1890">O(nlog<tspan font-size="6" dy="2">2</tspan><tspan dy="-2">n)</tspan></text><text class="sm" x="1608" y="1890">O(n)</text><text class="st" x="1687" y="1890">稳定</text>
<text class="st" x="1247" y="1939">计数排序</text><text class="sm" x="1316" y="1939">O(n+k)</text><text class="sm" x="1419" y="1939">O(n+k)</text><text class="sm" x="1514" y="1939">O(n+k)</text><text class="sm" x="1608" y="1939">O(n+k)</text><text class="st" x="1687" y="1939">稳定</text>
<text class="st" x="1247" y="1967.5">桶排序</text><text class="sm" x="1316" y="1967.5">O(n+k)</text><text class="sm" x="1419" y="1967.5">O(n²)</text><text class="sm" x="1514" y="1967.5">O(n)</text><text class="sm" x="1608" y="1967.5">O(n+k)</text><text class="st" x="1687" y="1967.5">稳定</text>
<text class="st" x="1247" y="1995.5">基数排序</text><text class="sm" x="1316" y="1995.5">O(n*k)</text><text class="sm" x="1419" y="1995.5">O(n*k)</text><text class="sm" x="1514" y="1995.5">O(n*k)</text><text class="sm" x="1608" y="1995.5">O(n+k)</text><text class="st" x="1687" y="1995.5">稳定</text>
</g>
</svg>
